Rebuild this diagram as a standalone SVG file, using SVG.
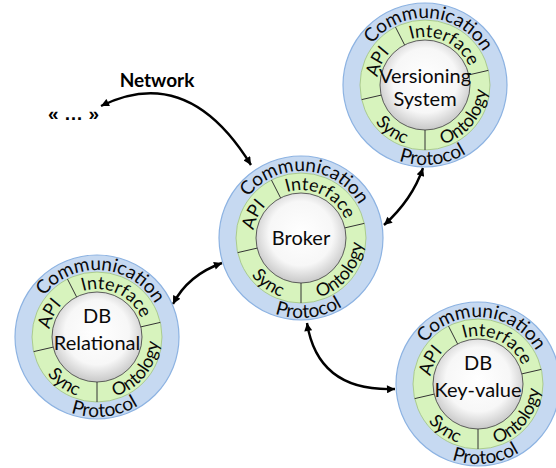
<svg xmlns="http://www.w3.org/2000/svg" xmlns:xlink="http://www.w3.org/1999/xlink" width="556" height="468" viewBox="0 0 556 468">
<style>
.blue{fill:#c6d9f1;stroke:#8db3e2;stroke-width:1.2}
.green{fill:#d7f3bd;stroke:#9fc27f;stroke-width:0.8}
.core{fill:url(#coreGrad);stroke:#4d4d4d;stroke-width:0.9}
.div{stroke:#333;stroke-width:1}
.ring{font-family:Lato,"Liberation Sans",sans-serif;fill:#0a0a0a;}
.big{font-size:19px}
.small{font-size:18px}
.label{font-family:Lato,"Liberation Sans",sans-serif;font-size:20px;fill:#0a0a0a;text-anchor:middle}
.conn{fill:none;stroke:#000;stroke-width:2.4;marker-start:url(#ah);marker-end:url(#ah)}
.bold{font-family:Lato,"Liberation Sans",sans-serif;font-weight:bold;fill:#000}
</style>
<defs>
<radialGradient id="coreGrad" cx="0.5" cy="0.45" r="0.55">
<stop offset="0" stop-color="#ffffff"/>
<stop offset="0.65" stop-color="#f7f7f7"/>
<stop offset="1" stop-color="#c8c8c8"/>
</radialGradient>
<marker id="ah" viewBox="0 0 10 10" refX="10" refY="5" markerWidth="9" markerHeight="8" markerUnits="userSpaceOnUse" orient="auto-start-reverse">
<path d="M0 0 L10 5 L0 10 Z" fill="#000"/>
</marker>
<path id="pComm" d="M -65.98 -11.63 A 67 67 0 0 1 66.96 -2.34"/>
<path id="pIntf" d="M -24 -41.57 A 48 48 0 0 1 47.27 -8.34"/>
<path id="pApi" d="M -46.57 11.61 A 48 48 0 0 1 -19.52 -43.85"/>
<path id="pOnto" d="M 5.4 61.76 A 62 62 0 0 0 61.54 -7.56"/>
<path id="pSync" d="M -59.89 16.05 A 62 62 0 0 0 3.24 61.92"/>
<path id="pProt" d="M -64.72 47.02 A 80 80 0 0 0 73.08 32.54"/>
</defs>
<rect width="556" height="468" fill="#fff"/>

<g id="connectors">
<path class="conn" d="M 101 106 Q 188 63 251 165"/>
<path class="conn" d="M 384 225 Q 412 200 423 168"/>
<path class="conn" d="M 222 263 Q 188 275 173 304"/>
<path class="conn" d="M 307 323 Q 318 392 395 389"/>
</g>

<g id="network-label">
<text class="bold" x="157" y="87" text-anchor="middle" font-size="19">Network</text>
<text x="48" y="120" font-family="'Liberation Sans', sans-serif" font-weight="bold" font-size="19" fill="#000" textLength="51" lengthAdjust="spacing">« … »</text>
</g>

<g id="broker" transform="translate(301,238)">
<circle class="blue" r="82"/>
<circle class="green" r="65"/>
<circle class="core" r="45"/>
<line class="div" x1="-20.43" y1="-40.1" x2="-29.51" y2="-57.92"/>
<line class="div" x1="43.85" y1="-10.12" x2="63.33" y2="-14.62"/>
<line class="div" x1="0" y1="45" x2="0" y2="65"/>
<line class="div" x1="-43.85" y1="10.12" x2="-63.33" y2="14.62"/>
<text class="ring big"><textPath href="#pComm" startOffset="50%" text-anchor="middle">Communication</textPath></text>
<text class="ring small"><textPath href="#pIntf" startOffset="50%" text-anchor="middle">Interface</textPath></text>
<text class="ring small"><textPath href="#pApi" startOffset="50%" text-anchor="middle">API</textPath></text>
<text class="ring small"><textPath href="#pOnto" startOffset="50%" text-anchor="middle">Ontology</textPath></text>
<text class="ring small"><textPath href="#pSync" startOffset="50%" text-anchor="middle">Sync</textPath></text>
<text class="ring big"><textPath href="#pProt" startOffset="50%" text-anchor="middle">Protocol</textPath></text>
<text class="label" x="0" y="7">Broker</text>
</g>

<g id="versioning" transform="translate(425,85)">
<circle class="blue" r="82"/>
<circle class="green" r="65"/>
<circle class="core" r="45"/>
<line class="div" x1="-20.43" y1="-40.1" x2="-29.51" y2="-57.92"/>
<line class="div" x1="43.85" y1="-10.12" x2="63.33" y2="-14.62"/>
<line class="div" x1="0" y1="45" x2="0" y2="65"/>
<line class="div" x1="-43.85" y1="10.12" x2="-63.33" y2="14.62"/>
<text class="ring big"><textPath href="#pComm" startOffset="50%" text-anchor="middle">Communication</textPath></text>
<text class="ring small"><textPath href="#pIntf" startOffset="50%" text-anchor="middle">Interface</textPath></text>
<text class="ring small"><textPath href="#pApi" startOffset="50%" text-anchor="middle">API</textPath></text>
<text class="ring small"><textPath href="#pOnto" startOffset="50%" text-anchor="middle">Ontology</textPath></text>
<text class="ring small"><textPath href="#pSync" startOffset="50%" text-anchor="middle">Sync</textPath></text>
<text class="ring big"><textPath href="#pProt" startOffset="50%" text-anchor="middle">Protocol</textPath></text>
<text class="label" x="0" y="-2">Versioning</text>
<text class="label" x="0" y="21">System</text>
</g>

<g id="db-relational" transform="translate(97,337)">
<circle class="blue" r="82"/>
<circle class="green" r="65"/>
<circle class="core" r="45"/>
<line class="div" x1="-20.43" y1="-40.1" x2="-29.51" y2="-57.92"/>
<line class="div" x1="43.85" y1="-10.12" x2="63.33" y2="-14.62"/>
<line class="div" x1="0" y1="45" x2="0" y2="65"/>
<line class="div" x1="-43.85" y1="10.12" x2="-63.33" y2="14.62"/>
<text class="ring big"><textPath href="#pComm" startOffset="50%" text-anchor="middle">Communication</textPath></text>
<text class="ring small"><textPath href="#pIntf" startOffset="50%" text-anchor="middle">Interface</textPath></text>
<text class="ring small"><textPath href="#pApi" startOffset="50%" text-anchor="middle">API</textPath></text>
<text class="ring small"><textPath href="#pOnto" startOffset="50%" text-anchor="middle">Ontology</textPath></text>
<text class="ring small"><textPath href="#pSync" startOffset="50%" text-anchor="middle">Sync</textPath></text>
<text class="ring big"><textPath href="#pProt" startOffset="50%" text-anchor="middle">Protocol</textPath></text>
<text class="label" x="0" y="-14">DB</text>
<text class="label" x="0" y="13">Relational</text>
</g>

<g id="db-keyvalue" transform="translate(478,384)">
<circle class="blue" r="82"/>
<circle class="green" r="65"/>
<circle class="core" r="45"/>
<line class="div" x1="-20.43" y1="-40.1" x2="-29.51" y2="-57.92"/>
<line class="div" x1="43.85" y1="-10.12" x2="63.33" y2="-14.62"/>
<line class="div" x1="0" y1="45" x2="0" y2="65"/>
<line class="div" x1="-43.85" y1="10.12" x2="-63.33" y2="14.62"/>
<text class="ring big"><textPath href="#pComm" startOffset="50%" text-anchor="middle">Communication</textPath></text>
<text class="ring small"><textPath href="#pIntf" startOffset="50%" text-anchor="middle">Interface</textPath></text>
<text class="ring small"><textPath href="#pApi" startOffset="50%" text-anchor="middle">API</textPath></text>
<text class="ring small"><textPath href="#pOnto" startOffset="50%" text-anchor="middle">Ontology</textPath></text>
<text class="ring small"><textPath href="#pSync" startOffset="50%" text-anchor="middle">Sync</textPath></text>
<text class="ring big"><textPath href="#pProt" startOffset="50%" text-anchor="middle">Protocol</textPath></text>
<text class="label" x="0" y="-14">DB</text>
<text class="label" x="0" y="13">Key-value</text>
</g>
</svg>
